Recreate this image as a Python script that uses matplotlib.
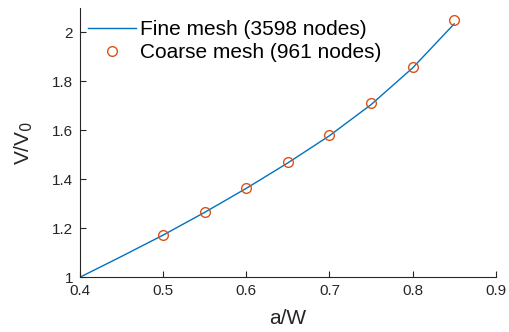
import matplotlib
matplotlib.use("Agg")
import matplotlib.pyplot as plt

# данные
fine_x = [0.40, 0.45, 0.50, 0.55, 0.60, 0.65, 0.70, 0.75, 0.80, 0.85]
fine_y = [1.000, 1.085, 1.172, 1.265, 1.363, 1.467, 1.578, 1.705, 1.855, 2.035]

coarse_x = [0.50, 0.55, 0.60, 0.65, 0.70, 0.75, 0.80, 0.85]
coarse_y = [1.174, 1.268, 1.366, 1.469, 1.580, 1.711, 1.860, 2.049]

x_ticks = [0.4, 0.5, 0.6, 0.7, 0.8, 0.9]
y_ticks = [1.0, 1.2, 1.4, 1.6, 1.8, 2.0]
y_tick_labels = ["1", "1.2", "1.4", "1.6", "1.8", "2"]

plt.rcParams['font.family'] = ['Liberation Sans', 'DejaVu Sans']

fig = plt.figure(figsize=(5.09, 3.32), dpi=100)
ax = fig.add_axes([0.157, 0.165, 0.817, 0.811])

ax.plot(fine_x, fine_y, color='#0072BD', lw=1.0, label='Fine mesh (3598 nodes)')
ax.plot(coarse_x, coarse_y, 'o', mfc='none', mec='#D95319', ms=7, mew=1.0,
        label='Coarse mesh (961 nodes)')

ax.set_xlim(0.4, 0.9)
ax.set_ylim(1.0, 2.1)
ax.set_xticks(x_ticks)
ax.set_yticks(y_ticks)
ax.set_yticklabels(y_tick_labels)

grey = '#262626'
for side in ['top', 'right']:
    ax.spines[side].set_visible(False)
for side in ['left', 'bottom']:
    ax.spines[side].set_color(grey)
    ax.spines[side].set_linewidth(0.8)
ax.tick_params(direction='in', length=4, width=0.8, colors=grey, labelsize=11)
ax.tick_params(axis='x', pad=5)
ax.tick_params(axis='y', pad=5)

ax.set_xlabel('a/W', fontsize=15, color=grey, labelpad=8)
ax.set_ylabel('V/V$_0$', fontsize=15, color=grey, labelpad=12)

ax.legend(loc='upper left', frameon=False, fontsize=15, handlelength=2.3,
          handletextpad=0.2, borderaxespad=0.0, borderpad=0.0,
          labelspacing=0.2, bbox_to_anchor=(0.02, 0.955))

fig.savefig('out.png', dpi=100)
